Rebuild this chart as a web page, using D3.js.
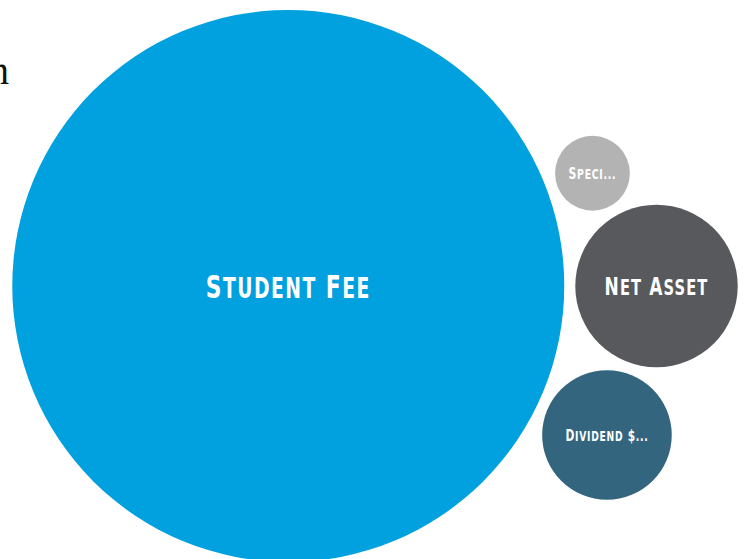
<!DOCTYPE html>
<html><head><meta charset="utf-8">
<script src="https://cdn.jsdelivr.net/npm/d3@7"></script>
<style>html,body{margin:0;padding:0;background:#fff;overflow:hidden}</style>
</head><body>
<svg id="chart" width="746" height="559"></svg>
<script>
// ---- data ----
const categories = ["Student Fee", "Net Asset", "Dividend $...", "Speci..."];
const values = [762, 66, 42, 14];
const colors = ["#00a1de", "#58595c", "#34657f", "#b3b3b3"];
const titleText = "n";

// ---- layout ----
const W = 746, H = 559;
const svg = d3.select("#chart");
const maxR = 276, pad = 5.5;
const rScale = d3.scaleSqrt().domain([0, d3.max(values)]).range([0, maxR]);

const nodes = categories.map((c, i) => ({name: c, value: values[i], color: colors[i], r: rScale(values[i]) + pad}));
d3.packSiblings(nodes);
nodes.forEach(n => n.r -= pad);

const bx0 = d3.min(nodes, n => n.x - n.r), bx1 = d3.max(nodes, n => n.x + n.r);
const by0 = d3.min(nodes, n => n.y - n.r), by1 = d3.max(nodes, n => n.y + n.r);
const clusterCx = W / 2 + 2, clusterCy = H / 2 + 6.5;
const tx = clusterCx - (bx0 + bx1) / 2, ty = clusterCy - (by0 + by1) / 2;

// title (cut off at the left in the original)
svg.append("text")
  .attr("x", 9).attr("y", 84)
  .attr("text-anchor", "end")
  .attr("font-family", "'Liberation Serif', 'DejaVu Serif', serif")
  .attr("font-size", 39)
  .attr("fill", "#111")
  .text(titleText);

const g = svg.append("g").attr("transform", `translate(${tx},${ty})`);

const node = g.selectAll("g.node").data(nodes).join("g")
  .attr("class", "node")
  .attr("transform", d => `translate(${d.x},${d.y})`);

node.append("circle")
  .attr("r", d => d.r)
  .attr("fill", d => d.color);

const labelFont = "'DejaVu Sans Condensed', 'DejaVu Sans', sans-serif";
const maxLabelW = 165, fitFrac = 0.64, stretchY = 1.32;

node.each(function(d) {
  const t = d3.select(this).append("text")
    .attr("text-anchor", "middle")
    .attr("font-family", labelFont)
    .attr("font-weight", "bold")
    .attr("letter-spacing", "0.06em")
    .attr("fill", "#fff")
    .attr("font-size", 20);
  const words = d.name.split(" ");
  words.forEach((w, wi) => {
    const first = w.charAt(0), rest = w.slice(1);
    t.append("tspan").text((wi > 0 ? " " : "") + first);
    if (rest) t.append("tspan").attr("font-size", "0.86em").style("text-transform", "uppercase").text(rest);
  });
  const w0 = t.node().getComputedTextLength();
  const target = Math.min(maxLabelW, fitFrac * 2 * d.r);
  const fs = 20 * target / w0;
  t.attr("font-size", fs)
   .attr("y", fs * 0.365)
   .attr("transform", `scale(1,${stretchY})`);
});
</script>
</body></html>
